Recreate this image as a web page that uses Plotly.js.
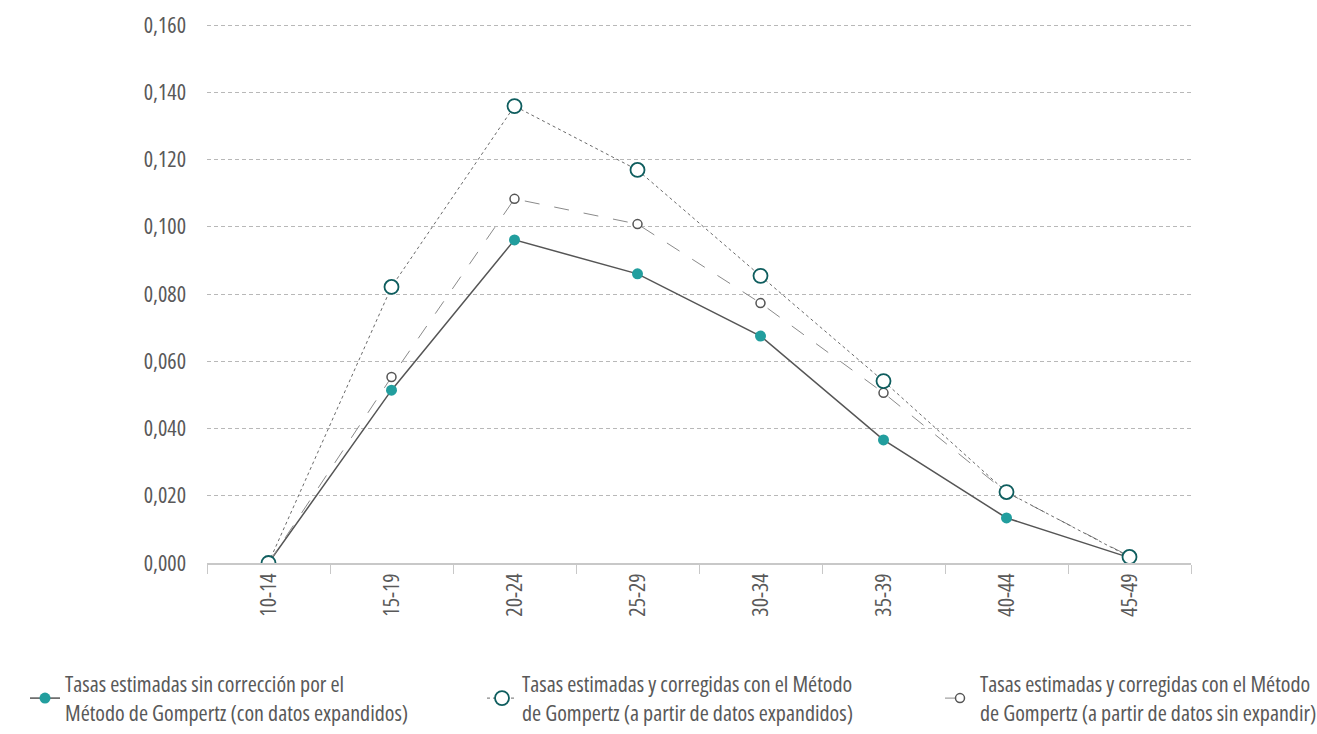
<!DOCTYPE html>
<html>
<head>
<meta charset="utf-8">
<script src="https://cdn.plot.ly/plotly-3.0.1.min.js"></script>
<style>html,body{margin:0;padding:0;background:#fff;}#chart{width:1317px;height:734px;}
#chart text{font-stretch:75% !important;}
</style>
</head>
<body>
<div id="chart"></div>
<script>
const categories = ["10-14","15-19","20-24","25-29","30-34","35-39","40-44","45-49"];
const sinCorreccion = [0.0, 0.0514, 0.0961, 0.0860, 0.0675, 0.0366, 0.0134, 0.0016];
const corregidasExpandidos = [0.0, 0.0821, 0.1359, 0.1169, 0.0854, 0.0541, 0.0211, 0.0018];
const corregidasSinExpandir = [0.0, 0.0553, 0.1083, 0.1008, 0.0773, 0.0506, 0.0210, 0.0020];
const seriesNames = [
  "Tasas estimadas sin corrección por el<br>Método de Gompertz (con datos expandidos)",
  "Tasas estimadas y corregidas con el Método<br>de Gompertz (a partir de datos expandidos)",
  "Tasas estimadas y corregidas con el Método<br>de Gompertz (a partir de datos sin expandir)"
];
const yTicks = [0,0.02,0.04,0.06,0.08,0.10,0.12,0.14,0.16];

const FONT = "'Open Sans', 'DejaVu Sans Condensed', sans-serif";
const TXT = "#595959";

const traces = [
  {
    x: categories, y: sinCorreccion, name: seriesNames[0], type: "scatter", mode: "lines+markers",
    line: {color: "#555555", width: 1.5},
    marker: {color: "#229e9e", size: 11, line: {width: 0}},
    legend: "legend"
  },
  {
    x: categories, y: corregidasSinExpandir, name: seriesNames[2], type: "scatter", mode: "lines+markers",
    line: {color: "#8a8a8a", width: 1, dash: "longdash"},
    marker: {color: "#ffffff", size: 9, symbol: "circle", line: {color: "#555555", width: 1.5}},
    legend: "legend3"
  },
  {
    x: categories, y: corregidasExpandidos, name: seriesNames[1], type: "scatter", mode: "lines+markers",
    line: {color: "#6a6a6a", width: 1, dash: "dot"},
    marker: {color: "#ffffff", size: 14, symbol: "circle", line: {color: "#0e5d5e", width: 1.8}},
    legend: "legend2"
  }
];

function leg(xpx) {
  return {
    orientation: "v", x: xpx / 1317, xanchor: "left", y: 0.0, yanchor: "bottom",
    xref: "container", yref: "container",
    font: {family: FONT, size: 22, color: TXT},
    bgcolor: "rgba(0,0,0,0)", borderwidth: 0
  };
}

const layout = {
  width: 1317, height: 734,
  margin: {l: 207, r: 126, t: 20, b: 171, autoexpand: false},
  paper_bgcolor: "#ffffff", plot_bgcolor: "#ffffff",
  separators: ",.",
  font: {family: FONT, color: TXT, size: 22},
  showlegend: true,
  legend: leg(25),
  legend2: leg(482),
  legend3: leg(940),
  xaxis: {
    type: "category",
    showline: true, linecolor: "#c8c8c8", linewidth: 1.5,
    ticks: "outside", tickson: "boundaries", ticklen: 9, tickcolor: "#c8c8c8", tickwidth: 1,
    tickangle: -90, tickfont: {family: FONT, size: 22, color: TXT},
    showgrid: false, zeroline: false,
    range: [-0.5, 7.5]
  },
  yaxis: {
    range: [0, 0.1615],
    tickvals: yTicks, tickformat: ".3f",
    showgrid: true, gridcolor: "#b8b8b8", griddash: "4px,3px", gridwidth: 1,
    zeroline: false, showline: false,
    ticks: "", ticklabelstandoff: 20,
    tickfont: {family: FONT, size: 22, color: TXT}
  }
};

Plotly.newPlot("chart", traces, layout, {displayModeBar: false, staticPlot: true});
</script>
</body>
</html>
